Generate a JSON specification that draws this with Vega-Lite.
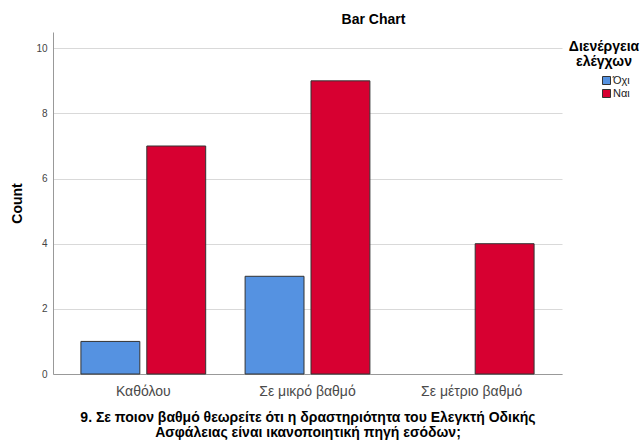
{
  "$schema": "https://vega.github.io/schema/vega-lite/v6.json",
  "autosize": "none",
  "width": 509,
  "height": 342,
  "padding": {"left": 53, "top": 32, "right": 79, "bottom": 67},
  "background": "white",
  "title": {
    "text": "Bar Chart",
    "font": "Liberation Sans",
    "fontSize": 14,
    "fontWeight": "bold",
    "color": "#000000",
    "anchor": "middle",
    "dx": 66,
    "offset": 5
  },
  "data": {
    "values": [
      {"category": "Καθόλου", "group": "Όχι", "count": 1},
      {"category": "Καθόλου", "group": "Ναι", "count": 7},
      {"category": "Σε μικρό βαθμό", "group": "Όχι", "count": 3},
      {"category": "Σε μικρό βαθμό", "group": "Ναι", "count": 9},
      {"category": "Σε μέτριο βαθμό", "group": "Ναι", "count": 4}
    ]
  },
  "mark": {"type": "bar", "stroke": "#333333", "strokeWidth": 1},
  "encoding": {
    "x": {
      "field": "category",
      "type": "nominal",
      "sort": ["Καθόλου", "Σε μικρό βαθμό", "Σε μέτριο βαθμό"],
      "scale": {"paddingInner": 0.24, "paddingOuter": 0.17},
      "axis": {
        "title": ["9. Σε ποιον βαθμό θεωρείτε ότι η δραστηριότητα του Ελεγκτή Οδικής", "Ασφάλειας είναι ικανοποιητική πηγή εσόδων;"],
        "titleFont": "Liberation Sans",
        "titleFontSize": 14,
        "titleFontWeight": "bold",
        "titleColor": "#000000",
        "titlePadding": 12,
        "titleLineHeight": 15,
        "labelAngle": 0,
        "labelFont": "Liberation Sans",
        "labelFontSize": 14,
        "labelColor": "#4a4a4a",
        "labelPadding": 10,
        "ticks": false,
        "domainColor": "#999999",
        "grid": false
      }
    },
    "xOffset": {
      "field": "group",
      "type": "nominal",
      "sort": ["Όχι", "Ναι"],
      "scale": {"paddingInner": 0.106, "paddingOuter": 0}
    },
    "y": {
      "field": "count",
      "type": "quantitative",
      "scale": {"domain": [0, 10.5], "nice": false},
      "axis": {
        "title": "Count",
        "titleFont": "Liberation Sans",
        "titleFontSize": 14,
        "titleFontWeight": "bold",
        "titleColor": "#000000",
        "titlePadding": 11,
        "values": [0, 2, 4, 6, 8, 10],
        "labelFont": "Liberation Sans",
        "labelFontSize": 10,
        "labelColor": "#444444",
        "labelPadding": 6,
        "ticks": false,
        "domainColor": "#999999",
        "gridColor": "#d9d9d9",
        "gridWidth": 1
      }
    },
    "color": {
      "field": "group",
      "type": "nominal",
      "sort": ["Όχι", "Ναι"],
      "scale": {"domain": ["Όχι", "Ναι"], "range": ["#5592E1", "#D70031"]},
      "legend": {
        "title": ["Διενέργεια", "ελέγχων"],
        "orient": "none",
        "legendX": 516,
        "legendY": 8,
        "titleFont": "Liberation Sans",
        "titleFontSize": 14,
        "titleFontWeight": "bold",
        "titleColor": "#000000",
        "titleAnchor": "middle",
        "titleAlign": "center",
        "titleLineHeight": 15,
        "titlePadding": 6,
        "labelFont": "Liberation Sans",
        "labelFontSize": 11,
        "labelColor": "#222222",
        "labelOffset": 1,
        "symbolType": "square",
        "symbolSize": 64,
        "symbolStrokeColor": "#333333",
        "symbolStrokeWidth": 1,
        "symbolOffset": 22,
        "rowPadding": 0
      }
    }
  },
  "config": {
    "view": {"stroke": null},
    "axis": {"domainWidth": 1}
  }
}
